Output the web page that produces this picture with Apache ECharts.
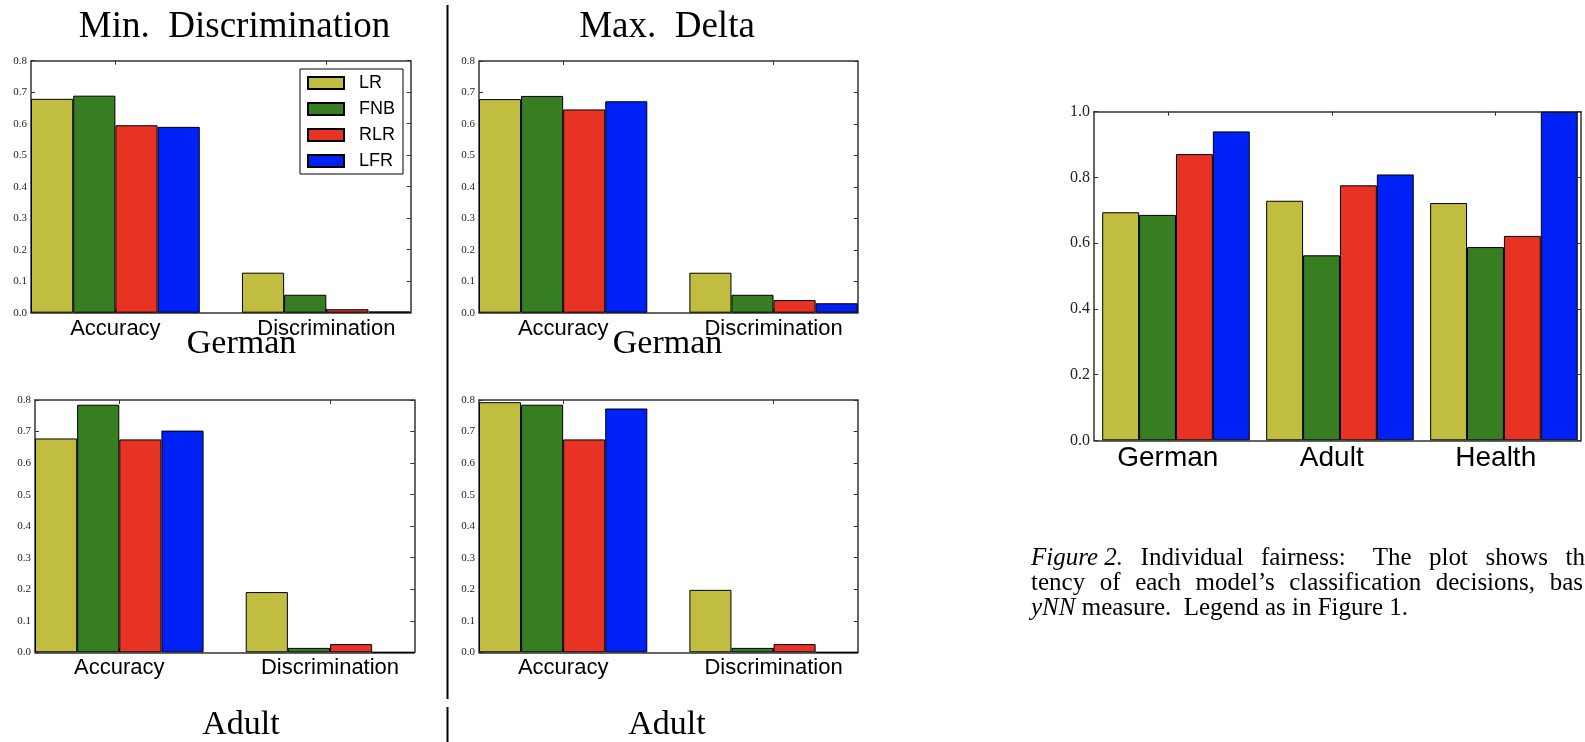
<!DOCTYPE html>
<html>
<head>
<meta charset="utf-8">
<script src="https://cdn.jsdelivr.net/npm/echarts@6/dist/echarts.min.js"></script>
<style>
  html, body { margin: 0; padding: 0; background: #ffffff; }
  #chart { width: 1585px; height: 742px; }
</style>
</head>
<body>
<div id="chart"></div>
<script>
// ---- data ----
const models = ['LR', 'FNB', 'RLR', 'LFR'];
const modelColors = ['#c0bd40', '#377d22', '#e83223', '#0021f5'];
const metricLabels = ['Accuracy', 'Discrimination'];

// [accuracy, discrimination] for each model, in the order of `models`
const germanMinDisc  = [[0.679, 0.127], [0.689, 0.057], [0.595, 0.011], [0.590, 0.004]];
const germanMaxDelta = [[0.679, 0.127], [0.689, 0.057], [0.646, 0.040], [0.672, 0.030]];
const adultMinDisc   = [[0.678, 0.191], [0.785, 0.014], [0.675, 0.026], [0.703, 0.000]];
const adultMaxDelta  = [[0.793, 0.198], [0.785, 0.014], [0.675, 0.026], [0.773, 0.000]];

// consistency (yNN) per dataset
const datasetNames   = ['German', 'Adult', 'Health'];
const consistencyLR  = [0.694, 0.729, 0.722];
const consistencyFNB = [0.686, 0.563, 0.588];
const consistencyRLR = [0.871, 0.776, 0.622];
const consistencyLFR = [0.940, 0.809, 1.000];
const consistency = [consistencyLR, consistencyFNB, consistencyRLR, consistencyLFR];

// ---- layout ----
const spineColor = '#333333';
const serif = '"Liberation Serif", "Times New Roman", serif';
const sans = '"Liberation Sans", Arial, Helvetica, sans-serif';

const smallPanels = [
  { values: germanMinDisc,  grid: { left: 31,  top: 60.7, width: 379.7, height: 252 } },
  { values: germanMaxDelta, grid: { left: 479, top: 61,   width: 378.7, height: 251.7 } },
  { values: adultMinDisc,   grid: { left: 35,  top: 400,  width: 379.3, height: 252.3 } },
  { values: adultMaxDelta,  grid: { left: 479, top: 400,  width: 378.7, height: 252.3 } }
];
const bigGrid = { left: 1094, top: 111.7, width: 487, height: 328.6 };

// small panels: x measured in bar widths, two groups of four bars, one empty slot between
const groupStride = 5;
const slotCount = 9;
// large panel: x measured in group strides
const bigBarFrac = 0.225;
const bigMin = -0.05, bigMax = 2.92;
const bigTickOffset = 0.4;

const grids = [], xAxes = [], yAxes = [], series = [];

const spineLine = { show: true, onZero: false, lineStyle: { color: spineColor, width: 1.5 } };
const tickStyle = { color: spineColor, width: 1 };

function addFrame(gridIndex, xMin, xMax, yMax, yInterval, tickValues, labelText, labelFont, labelMargin, yFont) {
  // bottom x axis with category labels
  xAxes.push({
    type: 'value', gridIndex, min: xMin, max: xMax, position: 'bottom',
    axisLine: spineLine,
    axisTick: { show: true, inside: true, length: 4, customValues: tickValues, lineStyle: tickStyle },
    axisLabel: {
      show: true, customValues: tickValues, margin: labelMargin,
      formatter: v => labelText[tickValues.findIndex(t => Math.abs(t - v) < 1e-6)] || '',
      fontFamily: sans, fontSize: labelFont, color: '#000'
    },
    splitLine: { show: false }
  });
  // top spine
  xAxes.push({
    type: 'value', gridIndex, min: xMin, max: xMax, position: 'top',
    axisLine: spineLine,
    axisTick: { show: true, inside: true, length: 4, customValues: tickValues, lineStyle: tickStyle },
    axisLabel: { show: false },
    splitLine: { show: false }
  });
  // left y axis with labels
  yAxes.push({
    type: 'value', gridIndex, min: 0, max: yMax, interval: yInterval, position: 'left',
    axisLine: spineLine,
    axisTick: { show: true, inside: true, length: 4, lineStyle: tickStyle },
    axisLabel: { margin: 4, formatter: v => v.toFixed(1), fontFamily: serif, fontSize: yFont, color: '#222' },
    splitLine: { show: false }
  });
  // right spine
  yAxes.push({
    type: 'value', gridIndex, min: 0, max: yMax, interval: yInterval, position: 'right',
    axisLine: spineLine,
    axisTick: { show: true, inside: true, length: 4, lineStyle: tickStyle },
    axisLabel: { show: false },
    splitLine: { show: false }
  });
}

smallPanels.forEach((panel, k) => {
  grids.push(Object.assign({ outerBoundsMode: 'none', containLabel: false }, panel.grid));
  const tickValues = metricLabels.map((_, g) => g * groupStride + models.length / 2);
  addFrame(k, 0, slotCount, 0.8, 0.1, tickValues, metricLabels, 22, 5, 11);
  const barW = panel.grid.width / slotCount;
  models.forEach((name, i) => {
    series.push({
      type: 'bar', name,
      xAxisIndex: 2 * k, yAxisIndex: 2 * k,
      barWidth: barW, barGap: '-100%',
      itemStyle: { color: modelColors[i], borderColor: '#000', borderWidth: 1 },
      data: metricLabels.map((_, g) => [g * groupStride + i + 0.5, panel.values[i][g]])
    });
  });
});

// consistency panel
{
  const k = smallPanels.length;
  grids.push(Object.assign({ outerBoundsMode: 'none', containLabel: false }, bigGrid));
  const tickValues = datasetNames.map((_, g) => g + bigTickOffset);
  addFrame(k, bigMin, bigMax, 1.0, 0.2, tickValues, datasetNames, 28, 4, 16);
  const barW = bigGrid.width * bigBarFrac / (bigMax - bigMin);
  models.forEach((name, i) => {
    series.push({
      type: 'bar', name,
      xAxisIndex: 2 * k, yAxisIndex: 2 * k,
      barWidth: barW, barGap: '-100%',
      itemStyle: { color: modelColors[i], borderColor: '#000', borderWidth: 1 },
      data: datasetNames.map((_, g) => [g + (i + 0.5) * bigBarFrac, consistency[i][g]])
    });
  });
}

function label(text, x, y, size) {
  return {
    type: 'text', x, y,
    style: { text, fontFamily: serif, fontSize: size, fill: '#000', align: 'center', verticalAlign: 'middle' }
  };
}

const captionFont = 25;
const captionRich = { it: { fontFamily: serif, fontSize: captionFont, fontStyle: 'italic', fill: '#000' } };
function captionLine(text, y) {
  return {
    type: 'text', x: 1031, y,
    style: {
      text, fontFamily: serif, fontSize: captionFont, fill: '#000',
      align: 'left', verticalAlign: 'middle', rich: captionRich
    }
  };
}
// justified caption lines use widened word gaps
const gap1 = '\u2002\u2009';
const gapColon = '\u2002\u2002\u200A';
const gap2 = '\u2002\u200A';

const graphics = [
  label('Min.  Discrimination', 234.5, 27, 37),
  label('Max.  Delta', 667, 27, 37),
  label('German', 241.5, 344, 34),
  label('German', 667.5, 344, 34),
  label('Adult', 241, 725, 34),
  label('Adult', 667, 725, 34),
  { type: 'line', shape: { x1: 447.5, y1: 5, x2: 447.5, y2: 699 }, style: { stroke: '#000', lineWidth: 2 } },
  { type: 'line', shape: { x1: 447.5, y1: 707, x2: 447.5, y2: 742 }, style: { stroke: '#000', lineWidth: 2 } },
  captionLine('{it|Figure 2.}' + gap1 + 'Individual' + gap1 + 'fairness:' + gapColon +
              ['The', 'plot', 'shows', 'th'].join(gap1), 558),
  captionLine(['tency', 'of', 'each', 'model\u2019s', 'classification', 'decisions,', 'bas'].join(gap2), 583),
  captionLine('{it|yNN} measure.  Legend as in Figure 1.', 608)
];

const chart = echarts.init(document.getElementById('chart'), null, { renderer: 'canvas' });
chart.setOption({
  animation: false,
  backgroundColor: '#ffffff',
  grid: grids,
  xAxis: xAxes,
  yAxis: yAxes,
  series,
  legend: {
    data: models,
    orient: 'vertical',
    left: 300, top: 69,
    itemWidth: 36, itemHeight: 12, itemGap: 8,
    padding: [5, 8, 4, 7],
    borderColor: '#000', borderWidth: 1, borderRadius: 0,
    backgroundColor: '#ffffff',
    icon: 'rect',
    selectedMode: false,
    textStyle: { fontFamily: sans, fontSize: 18, color: '#000', lineHeight: 18, padding: [0, 0, 0, 10] }
  },
  graphic: graphics
});
</script>
</body>
</html>
